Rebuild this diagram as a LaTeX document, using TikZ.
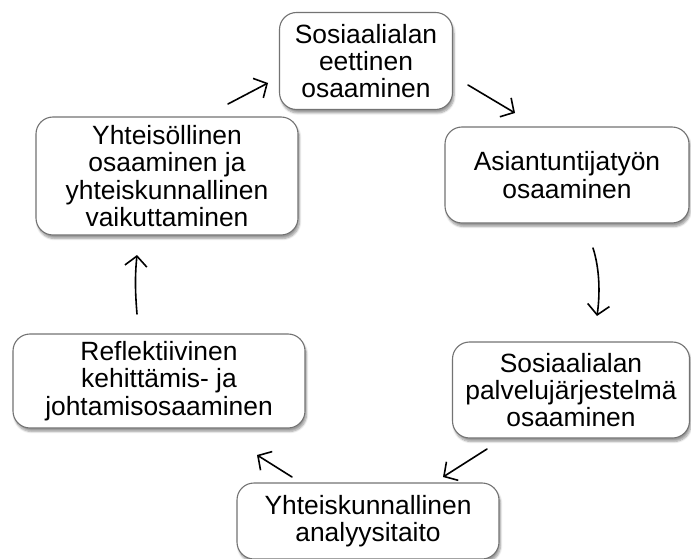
\documentclass[tikz,border=0pt]{standalone}
\usepackage{fontspec}
\setmainfont{Liberation Sans}
\usetikzlibrary{arrows.meta,shadows.blur}
\begin{document}
\begin{tikzpicture}[x=1bp,y=-1bp,
  box/.style={draw=black!55, line width=1.1bp, fill=white, rounded corners=17bp,
    align=center, inner sep=0pt, font=\fontsize{26.5}{27.5}\selectfont,
    blur shadow={shadow xshift=1.5bp, shadow yshift=-3.5bp, shadow blur steps=6, shadow opacity=40}},
  conn/.style={line width=1.6bp, line cap=round, -{Straight Barb[length=10bp,width=22bp,line width=1.6bp]}}]
\useasboundingbox (0,0) rectangle (691,559);
\node[box, minimum width=173bp, minimum height=97bp] (eth) at (366,61) {Sosiaalialan\\eettinen\\osaaminen};
\node[box, minimum width=244bp, minimum height=96bp] (asi) at (567,175) {Asiantuntijatyön\\osaaminen};
\node[box, minimum width=237bp, minimum height=96bp] (pal) at (571,390) {Sosiaalialan\\palvelujärjestelmä\\osaaminen};
\node[box, minimum width=262bp, minimum height=76bp] (ana) at (368,521) {Yhteiskunnallinen\\analyysitaito};
\node[box, minimum width=292bp, minimum height=94bp] (ref) at (159,381) {Reflektiivinen\\kehittämis- ja\\johtamisosaaminen};
\node[box, minimum width=262bp, minimum height=118bp] (yht) at (167,176) {Yhteisöllinen\\osaaminen ja\\yhteiskunnallinen\\vaikuttaminen};
\coordinate (a1) at (228,104); \coordinate (b1) at (268,83);
\coordinate (a2) at (468,85); \coordinate (b2) at (515,113);
\coordinate (a3) at (593,248); \coordinate (b3) at (597,316);
\coordinate (a4) at (487,449); \coordinate (b4) at (443,477);
\coordinate (a5) at (292,477); \coordinate (b5) at (257,455);
\coordinate (a6) at (137,314); \coordinate (b6) at (137,255);
\draw[conn] (a1) -- (b1);
\draw[conn] (a2) -- (b2);
\draw[conn] (a3) .. controls (600,270) and (600,295) .. (b3);
\draw[conn] (a4) -- (b4);
\draw[conn] (a5) -- (b5);
\draw[conn] (a6) .. controls (135,290) and (135,275) .. (b6);
\end{tikzpicture}
\end{document}
